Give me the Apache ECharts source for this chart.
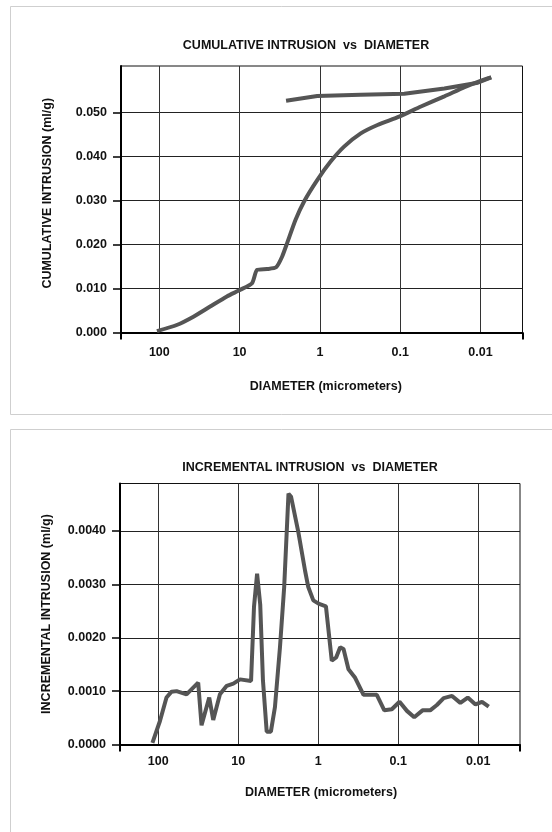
<!DOCTYPE html>
<html>
<head>
<meta charset="utf-8">
<script src="https://cdn.jsdelivr.net/npm/echarts@6/dist/echarts.min.js"></script>
<style>
html,body{margin:0;padding:0;background:#fff;}
#chart{width:552px;height:832px;}
</style>
</head>
<body>
<div id="chart"></div>
<script>
// ---- data ----
const xTicks = [100, 10, 1, 0.1, 0.01];
const xTickLabels = ['100', '10', '1', '0.1', '0.01'];
const xEnds = [299.9, 0.003001];
const cumTicks = [0, 0.01, 0.02, 0.03, 0.04, 0.05];
const incTicks = [0, 0.001, 0.002, 0.003, 0.004];

const intrusionDiameter = [107, 60.7, 37.6, 23.3, 14.4, 9.8, 7.0, 6.07, 4.55, 3.51, 2.96, 2.56, 2.01, 1.58, 1.08, 0.736, 0.50, 0.31, 0.192, 0.103, 0.0552, 0.0282, 0.0158, 0.0098, 0.00736];
const intrusionVolume = [0.0003, 0.0017, 0.0036, 0.0059, 0.0082, 0.0097, 0.0112, 0.0142, 0.0144, 0.0148, 0.0172, 0.0203, 0.0256, 0.0297, 0.0346, 0.0388, 0.0422, 0.0452, 0.0471, 0.0490, 0.0513, 0.0536, 0.0557, 0.0572, 0.0579];
const extrusionDiameter = [0.00736, 0.0108, 0.0282, 0.089, 0.31, 1.08, 2.64];
const extrusionVolume = [0.0579, 0.0567, 0.0554, 0.0542, 0.0540, 0.0537, 0.0526];

const incDiameter = [118, 95, 78.7, 68, 58.9, 44.2, 31.6, 28.7, 23, 20.5, 16.9, 13.9, 11.5, 9.5, 6.9, 6.34, 5.8, 5.3, 4.9, 4.4, 3.9, 3.47, 3.0, 2.66, 2.35, 2.18, 1.77, 1.46, 1.33, 1.15, 0.99, 0.80, 0.676, 0.596, 0.531, 0.482, 0.418, 0.345, 0.271, 0.185, 0.149, 0.12, 0.0962, 0.0777, 0.063, 0.0496, 0.0398, 0.0328, 0.027, 0.0212, 0.0167, 0.0135, 0.0108, 0.00895, 0.00738];
const incVolume = [0.00003, 0.00044, 0.00088, 0.00099, 0.00100, 0.00094, 0.00116, 0.00036, 0.00088, 0.00046, 0.00094, 0.00110, 0.00114, 0.00122, 0.00119, 0.00258, 0.00320, 0.00262, 0.00120, 0.00024, 0.00024, 0.00070, 0.00183, 0.00295, 0.00470, 0.00464, 0.00398, 0.00326, 0.00295, 0.00270, 0.00264, 0.00259, 0.00157, 0.00163, 0.00182, 0.00179, 0.00141, 0.00125, 0.00093, 0.00093, 0.00064, 0.00066, 0.00080, 0.00063, 0.00051, 0.00064, 0.00064, 0.00074, 0.00087, 0.00091, 0.00078, 0.00088, 0.00075, 0.00080, 0.00071];

// ---- chart ----
const FONT = "'Liberation Sans', Arial, sans-serif";
const txt = {fontFamily: FONT, fontWeight: 'bold', fontSize: 12.5, color: '#111'};
const pairs = (xs, ys) => xs.map((x, i) => [x, ys[i]]);
const xLabel = v => {
  let best = 0, bd = Infinity;
  xTicks.forEach((t, i) => { const d = Math.abs(Math.log10(v) - Math.log10(t)); if (d < bd) { bd = d; best = i; } });
  return xTickLabels[best];
};

function xAxes(gridIndex, labelMargin, nameGap) {
  return [{
    type: 'log', logBase: 10, gridIndex, inverse: true, min: 0.003, max: 300,
    position: 'bottom',
    name: 'DIAMETER (micrometers)', nameLocation: 'middle', nameGap,
    nameTextStyle: Object.assign({}, txt, {padding: gridIndex === 0 ? [0, 0, 0, 8] : [0, 0, 0, 2]}),
    axisLine: {show: true, onZero: false, lineStyle: {color: '#000', width: 2}},
    axisTick: {show: false, customValues: xTicks},
    axisLabel: Object.assign({}, txt, {customValues: xTicks, margin: labelMargin, formatter: xLabel}),
    splitLine: {show: true, lineStyle: {color: '#333', width: 1}},
    minorTick: {show: false}, minorSplitLine: {show: false}
  }, {
    type: 'log', logBase: 10, gridIndex, inverse: true, min: 0.003, max: 300,
    position: 'bottom',
    axisLine: {show: false},
    axisTick: {show: true, inside: false, length: 7, customValues: xEnds, lineStyle: {color: '#000', width: 2}},
    axisLabel: {show: false},
    splitLine: {show: false}
  }];
}

function yAxis(gridIndex, name, max, ticks, digits, namePad) {
  return {
    type: 'value', gridIndex, min: 0, max,
    name, nameLocation: 'middle', nameGap: 67,
    nameTextStyle: Object.assign({}, txt, {padding: namePad}),
    axisLine: {show: true, onZero: false, lineStyle: {color: '#000', width: 2}},
    axisTick: {show: true, length: 8, customValues: ticks, lineStyle: {color: '#000', width: 1.5}},
    axisLabel: Object.assign({}, txt, {customValues: ticks, margin: 14, formatter: v => v.toFixed(digits)}),
    splitLine: {show: true, lineStyle: {color: '#222', width: 1}}
  };
}

const lineStyle = {color: '#555', width: 4};

const option = {
  animation: false,
  backgroundColor: '#fff',
  graphic: [
    {type: 'rect', shape: {x: 10.5, y: 6.5, width: 560, height: 408}, style: {fill: 'none', stroke: '#cfcfcf', lineWidth: 1}, z: -10},
    {type: 'rect', shape: {x: 10.5, y: 429.5, width: 560, height: 420}, style: {fill: 'none', stroke: '#cfcfcf', lineWidth: 1}, z: -10}
  ],
  title: [
    {text: 'CUMULATIVE INTRUSION  vs  DIAMETER', left: 306, top: 39, textAlign: 'center', padding: 0, textStyle: txt},
    {text: 'INCREMENTAL INTRUSION  vs  DIAMETER', left: 310, top: 461, textAlign: 'center', padding: 0, textStyle: txt}
  ],
  grid: [
    {left: 121, top: 66, width: 401.5, height: 266.5, show: true, borderColor: '#111', borderWidth: 1, backgroundColor: 'transparent'},
    {left: 120, top: 483.5, width: 400, height: 261, show: true, borderColor: '#111', borderWidth: 1, backgroundColor: 'transparent'}
  ],
  xAxis: [].concat(xAxes(0, 13.5, 48), xAxes(1, 11, 42)),
  yAxis: [
    yAxis(0, 'CUMULATIVE INTRUSION (ml/g)', 0.0605, cumTicks, 3, [0, 0, 0, 12]),
    yAxis(1, 'INCREMENTAL INTRUSION (ml/g)', 0.00489, incTicks, 4, [0, 0, 0, 0])
  ],
  series: [
    {name: 'Intrusion', type: 'line', xAxisIndex: 0, yAxisIndex: 0, showSymbol: false, symbol: 'none',
      smooth: 0.2,
      data: pairs(intrusionDiameter, intrusionVolume), lineStyle, z: 5},
    {name: 'Extrusion', type: 'line', xAxisIndex: 0, yAxisIndex: 0, showSymbol: false, symbol: 'none',
      data: pairs(extrusionDiameter, extrusionVolume), lineStyle, z: 5},
    {name: 'Incremental', type: 'line', xAxisIndex: 2, yAxisIndex: 1, showSymbol: false, symbol: 'none',
      data: pairs(incDiameter, incVolume), lineStyle, z: 5}
  ]
};

const chart = echarts.init(document.getElementById('chart'), null, {renderer: 'canvas'});
chart.setOption(option);
</script>
</body>
</html>
